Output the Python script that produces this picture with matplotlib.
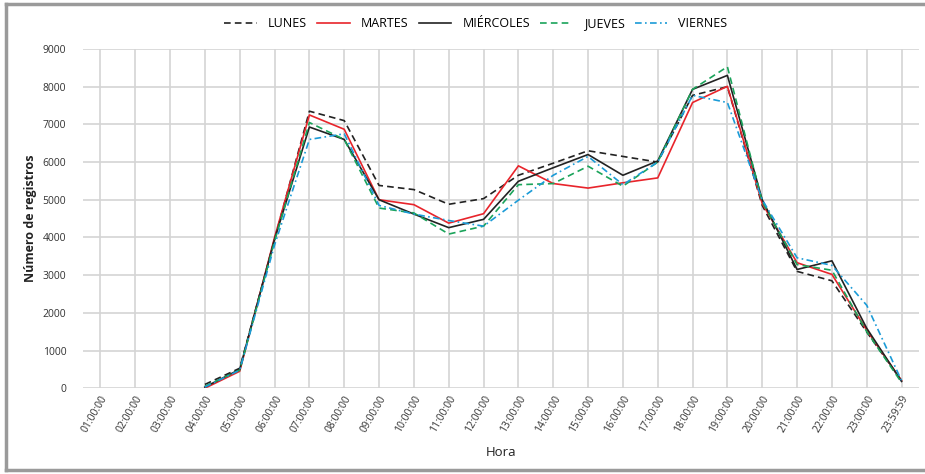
import numpy as np
import matplotlib.pyplot as plt
from matplotlib.lines import Line2D

plt.rcParams['font.family'] = ['Open Sans', 'DejaVu Sans']

horas = ["01:00:00", "02:00:00", "03:00:00", "04:00:00", "05:00:00", "06:00:00",
         "07:00:00", "08:00:00", "09:00:00", "10:00:00", "11:00:00", "12:00:00",
         "13:00:00", "14:00:00", "15:00:00", "16:00:00", "17:00:00", "18:00:00",
         "19:00:00", "20:00:00", "21:00:00", "22:00:00", "23:00:00", "23:59:59"]

nan = np.nan
lunes = [nan, nan, nan, 100, 530, 3950, 7350, 7100, 5380, 5270, 4880, 5030,
         5650, 5970, 6300, 6150, 6000, 7770, 8000, 4850, 3100, 2850, 1490, 200]
martes = [nan, nan, nan, 0, 450, 4000, 7250, 6870, 5000, 4870, 4380, 4630,
          5900, 5430, 5310, 5450, 5580, 7580, 8010, 4900, 3330, 3020, 1540, 200]
miercoles = [nan, nan, nan, 30, 500, 3950, 6930, 6600, 5000, 4620, 4260, 4480,
             5490, 5850, 6200, 5650, 6030, 7930, 8300, 5000, 3150, 3380, 1590, 180]
jueves = [nan, nan, nan, 50, 480, 3900, 7050, 6600, 4780, 4650, 4090, 4300,
          5400, 5430, 5890, 5360, 6000, 7930, 8530, 4950, 3280, 3130, 1500, 150]
viernes = [nan, nan, nan, 30, 480, 3800, 6600, 6750, 4850, 4620, 4450, 4300,
           4990, 5650, 6150, 5400, 6000, 7770, 7580, 5000, 3460, 3260, 2200, 200]

series = [
    ("LUNES", lunes, "#222222", (0, (4, 2.5))),
    ("MARTES", martes, "#e8242b", "-"),
    ("MIÉRCOLES", miercoles, "#222222", "-"),
    ("JUEVES", jueves, "#1aa35a", (0, (4, 2.5))),
    ("VIERNES", viernes, "#1b9bd7", (0, (4, 2, 1, 2))),
]

fig = plt.figure(figsize=(9.25, 4.74), dpi=100)
ax = fig.add_axes([0.0897, 0.181, 0.9038, 0.7156])

x = np.arange(len(horas))
for nombre, vals, color, ls in series:
    ax.plot(x, vals, color=color, linestyle=ls, linewidth=1.2, label=nombre)

ax.set_xlim(-0.5, len(horas) - 0.5)
ax.set_ylim(0, 9000)
ax.set_yticks(np.arange(0, 9001, 1000))
ax.set_xticks(x)
ax.set_xticklabels(horas, rotation=60, ha="right", rotation_mode="anchor",
                   fontsize=7.5, color="#333333")
ax.tick_params(axis="y", labelsize=7.5, labelcolor="#333333", length=0, pad=12)
ax.tick_params(axis="x", length=0, pad=4)
ax.grid(True, color="#d4d4d4", linewidth=1.2)
ax.set_axisbelow(True)
for s in ax.spines.values():
    s.set_visible(False)

ax.set_ylabel("Número de registros", fontsize=9, fontweight="bold", color="#222222", labelpad=4)
ax.set_xlabel("Hora", fontsize=9.5, color="#222222", labelpad=8)

ax.legend(loc="center", bbox_to_anchor=(0.47, 1.074), ncol=5, frameon=False,
          fontsize=9, handlelength=2.6, columnspacing=0.8, handletextpad=0.9)

# marco gris de la figura
fc = "#9a9a9a"
fig.add_artist(Line2D([0.006, 1.0], [0.9915, 0.9915], color=fc, lw=2.5, transform=fig.transFigure))
fig.add_artist(Line2D([0.0068, 0.0068], [0.0085, 0.9915], color=fc, lw=2.5, transform=fig.transFigure))
fig.add_artist(Line2D([0.006, 1.0], [0.0085, 0.0085], color=fc, lw=2.5, transform=fig.transFigure))

fig.savefig("out.png", dpi=100)
